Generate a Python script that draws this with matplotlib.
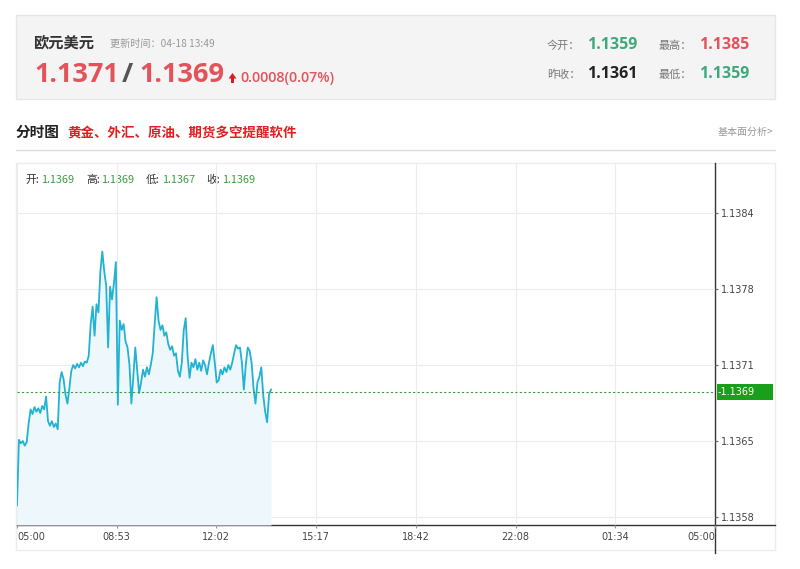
import numpy as np
import matplotlib.pyplot as plt
from matplotlib.patches import Rectangle, Polygon
from matplotlib.lines import Line2D
from matplotlib.transforms import blended_transform_factory

plt.rcParams['font.family'] = ['Noto Sans CJK SC', 'DejaVu Sans']

# header quote
pair_name = '欧元美元'
update_time = '更新时间：04-18 13:49'
bid_price = '1.1371'
ask_price = '1.1369'
change_text = '0.0008(0.07%)'
stat_names = ['今开：', '最高：', '昨收：', '最低：']
stat_values = ['1.1359', '1.1385', '1.1361', '1.1359']

# intraday chart
ohlc_names = ['开:', '高:', '低:', '收:']
ohlc_values = ['1.1369', '1.1369', '1.1367', '1.1369']
time_labels = ['05:00', '08:53', '12:02', '15:17', '18:42', '22:08', '01:34', '05:00']
price_ticks = [1.1358, 1.13645, 1.1371, 1.13775, 1.1384]
price_tick_labels = ['1.1358', '1.1365', '1.1371', '1.1378', '1.1384']
last_price = 1.13687
step_minutes = 4
prices = [
    1.13590, 1.13646, 1.13643, 1.13645, 1.13641, 1.13644, 1.13660, 1.13672, 1.13668, 1.13674,
    1.13670, 1.13673, 1.13669, 1.13675, 1.13672, 1.13683, 1.13662, 1.13658, 1.13662, 1.13657,
    1.13660, 1.13655, 1.13695, 1.13704, 1.13698, 1.13685, 1.13677, 1.13690, 1.13705, 1.13710,
    1.13707, 1.13711, 1.13708, 1.13712, 1.13709, 1.13713, 1.13712, 1.13718, 1.13745, 1.13760,
    1.13735, 1.13762, 1.13755, 1.13790, 1.13807, 1.13790, 1.13778, 1.13725, 1.13777, 1.13766,
    1.13780, 1.13798, 1.13676, 1.13748, 1.13740, 1.13745, 1.13730, 1.13725, 1.13710, 1.13677,
    1.13700, 1.13725, 1.13705, 1.13686, 1.13695, 1.13706, 1.13700, 1.13708, 1.13702, 1.13710,
    1.13720, 1.13745, 1.13768, 1.13748, 1.13740, 1.13744, 1.13735, 1.13738, 1.13728, 1.13723,
    1.13726, 1.13718, 1.13720, 1.13705, 1.13700, 1.13712, 1.13740, 1.13750, 1.13717, 1.13699,
    1.13712, 1.13708, 1.13715, 1.13706, 1.13712, 1.13705, 1.13714, 1.13710, 1.13702, 1.13712,
    1.13720, 1.13727, 1.13712, 1.13695, 1.13697, 1.13706, 1.13702, 1.13708, 1.13704, 1.13710,
    1.13706, 1.13712, 1.13720, 1.13727, 1.13724, 1.13725, 1.13712, 1.13689, 1.13710, 1.13725,
    1.13722, 1.13712, 1.13690, 1.13677, 1.13695, 1.13700, 1.13708, 1.13684, 1.13670, 1.13661,
    1.13685, 1.13689,
]

RED = '#e2545a'
GREEN = '#3fa97c'
DARK = '#333333'
GRAY = '#999999'

fig = plt.figure(figsize=(8, 5.69), dpi=100)

# background layer in pixel coordinates
bg = fig.add_axes([0, 0, 1, 1], zorder=0)
bg.set_xlim(0, 800)
bg.set_ylim(569, 0)
bg.axis('off')

bg.add_patch(Rectangle((16, 15), 759, 84, fc='#f4f4f4', ec='#e6e6e6', lw=1))
bg.text(33, 47, pair_name, fontsize=11, fontweight='bold', color=DARK, va='baseline')
bg.text(110, 47, update_time, fontsize=7.3, color=GRAY, va='baseline')
bg.text(34, 82, bid_price, fontsize=19.5, fontweight='bold', color=RED, va='baseline',
        family=['Open Sans', 'DejaVu Sans'])
bg.text(122, 82, '/', fontsize=19.5, fontweight='bold', color='#555555', va='baseline',
        family=['Open Sans', 'DejaVu Sans'])
bg.text(139, 82, ask_price, fontsize=19.5, fontweight='bold', color=RED, va='baseline',
        family=['Open Sans', 'DejaVu Sans'])
# small red up arrow
bg.add_patch(Polygon([(228.5, 78.5), (232.5, 73), (236.5, 78.5)], closed=True, fc='#d81e1e', ec='none'))
bg.add_patch(Rectangle((231, 78), 3, 4.5, fc='#d81e1e', ec='none'))
bg.text(240, 81.5, change_text, fontsize=10.3, fontweight='semibold', color=RED, va='baseline',
        family=['Open Sans', 'DejaVu Sans'])

stat_pos = [(547, 587, 49), (659, 699, 49), (547, 587, 78), (659, 699, 78)]
stat_colors = [GREEN, RED, '#222222', GREEN]
for name, val, col, (xn, xv, yb) in zip(stat_names, stat_values, stat_colors, stat_pos):
    bg.text(xn, yb, name, fontsize=8, color='#777777', va='baseline')
    bg.text(xv, yb, val, fontsize=11.5, fontweight='bold', color=col, va='baseline',
            family=['Open Sans', 'DejaVu Sans'])

bg.text(16, 137, '分时图', fontsize=10.5, fontweight='bold', color='#222222', va='baseline')
bg.text(67, 137, '黄金、外汇、原油、期货多空提醒软件', fontsize=9.7, fontweight='bold',
        color='#e01f1f', va='baseline')
bg.text(773, 135, '基本面分析>', fontsize=7.2, color=GRAY, va='baseline', ha='right')
bg.add_line(Line2D([16, 775], [150, 150], color='#dddddd', lw=1))

# chart frame
bg.add_patch(Rectangle((16, 163), 759, 387, fc='white', ec='#ececec', lw=1))

ax = fig.add_axes([17 / 800, 1 - 525 / 569, 698 / 800, 362 / 569], zorder=2)
ax.set_facecolor('none')
px = 0.00065 / 76
ymin, ymax = 1.1358 - 8 * px, 1.1384 + 50 * px
total_minutes = 1440
x = np.arange(len(prices)) * step_minutes

ax.fill_between(x, prices, ymin, color='#eef8fc', lw=0)
ax.plot(x, prices, color='#22b2d2', lw=1.3)
ax.axhline(last_price, color='#3c9c3c', lw=0.8, ls=(0, (2, 2)))

ax.set_xlim(0, total_minutes)
ax.set_ylim(ymin, ymax)
xt = [i * total_minutes / 7 for i in range(8)]
ax.set_xticks(xt)
ax.set_xticklabels(time_labels, fontsize=7, color='#444444', family='DejaVu Sans')
labs = ax.get_xticklabels()
labs[0].set_ha('left')
labs[-1].set_ha('right')
ax.set_yticks(price_ticks)
ax.set_yticklabels(price_tick_labels, fontsize=7, color='#444444', family='DejaVu Sans')
ax.yaxis.tick_right()
ax.tick_params(axis='x', length=2, pad=3, color='#999999')
ax.tick_params(axis='y', length=2.5, pad=2, color='#666666')
ax.grid(True, color='#ececec', lw=0.8)
ax.set_axisbelow(True)
for s in ['left', 'top', 'right', 'bottom']:
    ax.spines[s].set_visible(False)

# axis lines extending into the frame
bg.add_line(Line2D([715, 715], [163, 553], color='#333333', lw=1, zorder=5))
bg.add_line(Line2D([17, 775], [525, 525], color='#333333', lw=1, zorder=5))

# current price tag
tr = blended_transform_factory(ax.transAxes, ax.transData)
ax.add_patch(Rectangle((1.003, last_price - 8 * px), 56 / 698, 16 * px, transform=tr,
                       fc='#1a9f1a', ec='none', clip_on=False))
ax.text(1.004, last_price, '-' + ohlc_values[3], transform=tr, fontsize=7, color='white',
        va='center', family='DejaVu Sans', clip_on=False)

# OHLC summary
ohlc_pos = [(25, 41), (86, 101), (146, 162), (206, 222)]
for name, val, (xn, xv) in zip(ohlc_names, ohlc_values, ohlc_pos):
    bg.text(xn, 183, name, fontsize=7.8, color=DARK, va='baseline', zorder=6)
    bg.text(xv, 183, val, fontsize=7.8, color='#3c9c3c', va='baseline', zorder=6)

fig.savefig('out.png', dpi=100)
